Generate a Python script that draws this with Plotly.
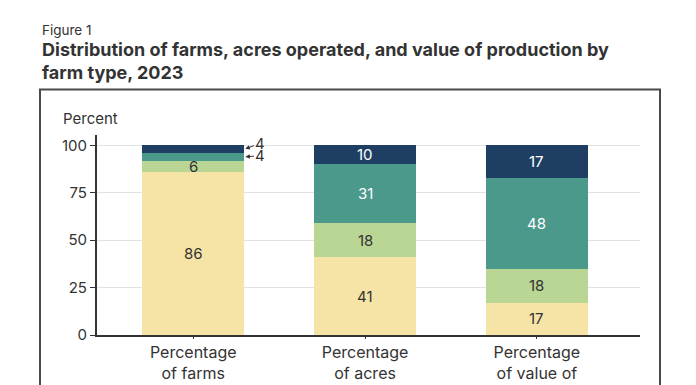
import plotly.graph_objects as go

categories = ["Percentage<br>of farms", "Percentage<br>of acres", "Percentage<br>of value of<br>production"]
series_names = ["Small family farms", "Midsize family farms", "Large-scale family farms", "Nonfamily farms"]
small = [86, 41, 17]
midsize = [6, 18, 18]
large = [4, 31, 48]
nonfamily = [4, 10, 17]
colors = ["#F6E4A6", "#B9D694", "#4B998A", "#1E3F63"]
text_colors = ["#333333", "#333333", "#FFFFFF", "#FFFFFF"]
y_ticks = [0, 25, 50, 75, 100]

series = [small, midsize, large, nonfamily]
xs = [0, 1, 2]
BAR_W = 0.595
FONT = "Inter"

fig = go.Figure()
for name, vals, col in zip(series_names, series, colors):
    fig.add_trace(go.Bar(x=xs, y=vals, name=name, marker=dict(color=col, line=dict(width=0)),
                         width=BAR_W, hoverinfo="skip"))

annotations = []
for i in xs:
    base = 0
    for k, vals in enumerate(series):
        v = vals[i]
        mid = base + v / 2
        if v >= 5:
            annotations.append(dict(x=i, y=mid, xref="x", yref="y", text=str(v), showarrow=False,
                                    font=dict(family=FONT, size=15, color=text_colors[k])))
        else:
            annotations.append(dict(x=i + BAR_W / 2, y=mid, xref="x", yref="y", text=str(v),
                                    showarrow=True, ax=16, ay=-6 if k == 3 else -1, arrowhead=2,
                                    arrowsize=0.9, arrowwidth=1, arrowcolor="#333333", standoff=1,
                                    font=dict(family=FONT, size=15, color="#333333")))
        base += v

# titles
annotations.append(dict(x=-57 / 543, y=(335 - 40) / 200, xref="paper", yref="paper", xanchor="left", yanchor="bottom",
                        text="Figure 1", showarrow=False, font=dict(family=FONT, size=13.5, color="#333333")))
annotations.append(dict(x=-57 / 543, y=(335 - 37) / 200, xref="paper", yref="paper", xanchor="left", yanchor="top",
                        align="left",
                        text="<b>Distribution of farms, acres operated, and value of production by<br>farm type, 2023</b>",
                        showarrow=False, font=dict(family=FONT, size=18, color="#333333")))
annotations.append(dict(x=-36 / 543, y=(335 - 118) / 200, xref="paper", yref="paper", xanchor="left", yanchor="middle",
                        text="Percent", showarrow=False, font=dict(family=FONT, size=15, color="#333333")))

shapes = [dict(type="rect", xref="paper", yref="paper", x0=-57 / 543, x1=563 / 543,
               y0=-0.6, y1=(335 - 89.5) / 200, line=dict(color="#4A4A4A", width=2))]

fig.update_layout(
    width=688, height=377,
    margin=dict(l=89, r=56, t=127, b=50, autoexpand=False),
    barmode="stack", bargap=0,
    showlegend=False,
    plot_bgcolor="white", paper_bgcolor="white",
    font=dict(family=FONT, color="#333333"),
    annotations=annotations, shapes=shapes,
    xaxis=dict(tickmode="array", tickvals=xs, ticktext=categories, range=[-0.56, 2.6], automargin=False,
               showline=True, linecolor="#333333", linewidth=2, ticks="outside", ticklen=2,
               tickcolor="#333333", showgrid=False, zeroline=False,
               tickfont=dict(family=FONT, size=16, color="#333333")),
    yaxis=dict(range=[0, 105.5], tickvals=y_ticks, showline=True, linecolor="#333333", linewidth=2,
               automargin=False,
               ticks="outside", ticklen=5, tickcolor="#333333", showgrid=True, gridcolor="#E2E2E2",
               gridwidth=1, zeroline=False, tickfont=dict(family=FONT, size=15, color="#333333")),
)

fig.write_html("out.html")
